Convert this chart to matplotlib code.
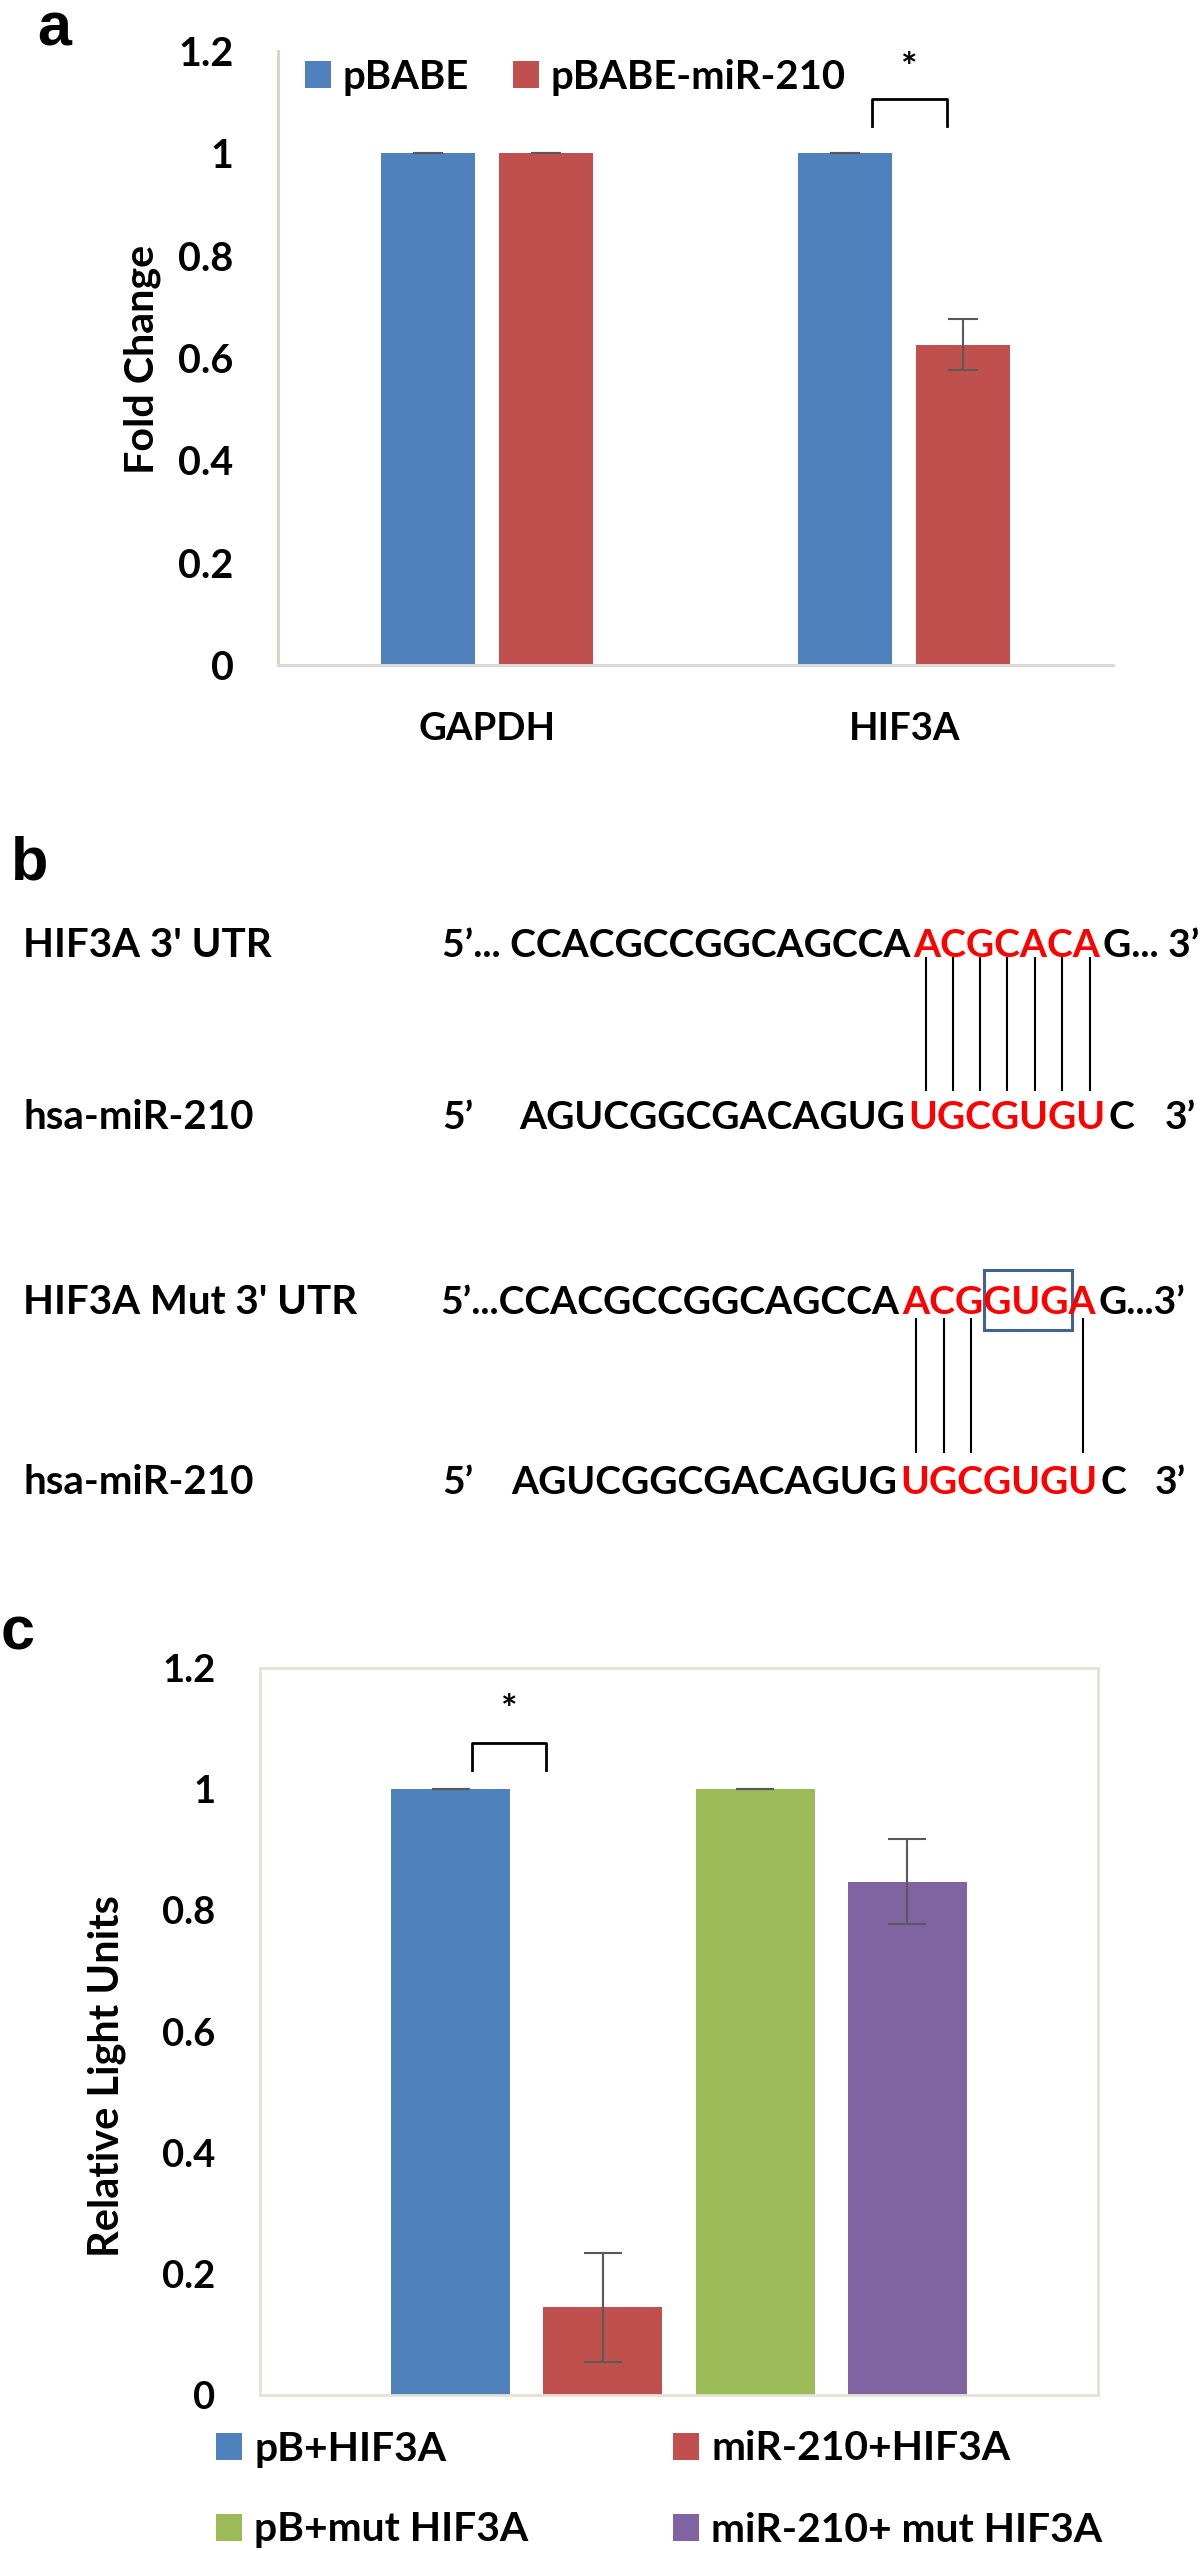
import matplotlib
matplotlib.use("Agg")
import matplotlib.pyplot as plt
from matplotlib.patches import Rectangle, Patch
from matplotlib.legend import Legend
from matplotlib.font_manager import FontProperties
import numpy as np

# ---------------- data ----------------
# panel a
genes = ["GAPDH", "HIF3A"]
series_a = ["pBABE", "pBABE-miR-210"]
fold_pbabe = [1.0, 1.0]
fold_mir = [1.0, 0.626]
err_pbabe = [0.0, 0.0]
err_mir = [0.0, 0.05]
yticks = [0, 0.2, 0.4, 0.6, 0.8, 1.0, 1.2]
yticklabels = ["0", "0.2", "0.4", "0.6", "0.8", "1", "1.2"]

# panel b
row_labels = ["HIF3A 3' UTR", "hsa-miR-210", "HIF3A Mut 3' UTR", "hsa-miR-210"]
utr_prefix = "5’... CCACGCCGGCAGCCA"
utr_seed = "ACGCACA"
utr_suffix = "G... 3’"
mir_prefix = "AGUCGGCGACAGUG"
mir_seed = "UGCGUGU"
mir_suffix = "C"
mut_prefix = "5’...CCACGCCGGCAGCCA"
mut_seed = "ACGGUGA"
mut_suffix = "G...3’"
pairs_wt = [0, 1, 2, 3, 4, 5, 6]
pairs_mut = [0, 1, 2, 6]
mut_box = (3, 6)

# panel c
constructs = ["pB+HIF3A", "miR-210+HIF3A", "pB+mut HIF3A", "miR-210+ mut HIF3A"]
rlu = [1.0, 0.145, 1.0, 0.847]
rlu_err = [0.0, 0.09, 0.0, 0.07]

# ---------------- style ----------------
BLUE, RED, GREEN, PURPLE = "#4F81BD", "#C0504D", "#9BBB59", "#8064A2"
colors_c = [BLUE, RED, GREEN, PURPLE]
ERR = "#595959"
W, H = 1200, 2551
FAM = ["Lato", "DejaVu Sans"]

fig = plt.figure(figsize=(W / 100, H / 100), dpi=100)
renderer = fig.canvas.get_renderer()


def fp(s):
    return FontProperties(family=FAM, weight="bold", size=s)


def tw(s, prop):
    w, h, d = renderer.get_text_width_height_descent(s, prop, ismath=False)
    return w


def fit_size(s, target_px, base=28.0):
    return base * target_px / tw(s, fp(base))


def fit(s, target_px):
    return fp(fit_size(s, target_px))


fp_letter = FontProperties(family=["Liberation Sans", "DejaVu Sans"], weight="bold", size=44)

f_tick_a = fit("1.2", 55)
f_cat_a = fit("GAPDH", 137)
f_leg_a = fit("pBABE-miR-210", 295)
f_ylab_a = fit("Fold Change", 229)
f_tick_c = fit("1.2", 53)
f_leg_c = fit("miR-210+ mut HIF3A", 392)
f_ylab_c = fit("Relative Light Units", 362)
f_lab_b = fit("HIF3A Mut 3' UTR", 334)
f_star = fp(28)

# panel b row geometry (pixels from top-left)
GAP = 3
rows_y = [943, 1115, 1300, 1480]
seed_x = [913, 908, 902, 900]
prefix_x = [442, 519, 442, 506]
prefixes = [utr_prefix, mir_prefix, mut_prefix, mir_prefix]
seq_size = np.mean([fit_size(p, sx - GAP - px) for p, sx, px in zip(prefixes, seed_x, prefix_x)])
f_seq = fp(seq_size)


def ax_rect(left, top, right, bottom):
    return [left / W, 1 - bottom / H, (right - left) / W, (bottom - top) / H]


def add_legend_item(ax, color, label, xpx, ypx, prop):
    leg = Legend(ax, [Patch(facecolor=color, edgecolor="none")], [label],
                 loc="center left", bbox_to_anchor=(xpx / W, 1 - ypx / H),
                 bbox_transform=fig.transFigure, frameon=False, borderpad=0,
                 borderaxespad=0, handlelength=0.64, handleheight=0.64,
                 handletextpad=0.3, prop=prop)
    ax.add_artist(leg)


# ---------------- panel a ----------------
axa = fig.add_axes(ax_rect(278, 51, 1113, 665))
xa = np.arange(len(genes))
off, wa = 0.1413, 0.225
ekw_a = dict(ecolor=ERR, elinewidth=1.5, capsize=11, capthick=1.5)
axa.bar(xa - off, fold_pbabe, wa, color=BLUE, yerr=err_pbabe, error_kw=ekw_a, zorder=2)
axa.bar(xa + off, fold_mir, wa, color=RED, yerr=err_mir, error_kw=ekw_a, zorder=2)
axa.set_xlim(-0.5, len(genes) - 0.5)
axa.set_ylim(0, 1.2)
axa.set_yticks(yticks)
axa.set_yticklabels(yticklabels, fontproperties=f_tick_a)
axa.set_xticks(xa)
axa.set_xticklabels(genes, fontproperties=f_cat_a)
axa.tick_params(axis="both", length=0)
axa.tick_params(axis="y", pad=32)
axa.tick_params(axis="x", pad=34)
for s in ["top", "right"]:
    axa.spines[s].set_visible(False)
axa.spines["left"].set_color("#D8D4BE")
axa.spines["left"].set_linewidth(2)
axa.spines["bottom"].set_color("#D9D9D9")
axa.spines["bottom"].set_linewidth(2.2)
axa.set_ylabel("Fold Change", fontproperties=f_ylab_a, va="center")
axa.yaxis.set_label_coords((142 - 278) / 835, (665 - 359) / 614)
add_legend_item(axa, BLUE, series_a[0], 305, 77, f_leg_a)
add_legend_item(axa, RED, series_a[1], 513, 77, f_leg_a)
bl, br = xa[1] - off + 0.064, xa[1] + off - 0.038
axa.plot([bl, bl, br, br], [1.053, 1.107, 1.107, 1.053], color="black", lw=2, clip_on=False)
axa.text((bl + br) / 2, 1.165, "*", ha="center", va="center", fontproperties=f_star)

# ---------------- panel c ----------------
axc = fig.add_axes(ax_rect(260, 1668, 1098, 2395))
step, wc = 0.1814, 0.142
xc = (np.arange(len(constructs)) - (len(constructs) - 1) / 2) * step
ekw_c = dict(ecolor=ERR, elinewidth=1.5, capsize=14, capthick=1.5)
for i in range(len(constructs)):
    axc.bar(xc[i], rlu[i], wc, color=colors_c[i], yerr=rlu_err[i], error_kw=ekw_c, zorder=2)
axc.set_xlim(-0.5, 0.5)
axc.set_ylim(0, 1.2)
axc.set_xticks([])
axc.set_yticks(yticks)
axc.set_yticklabels(yticklabels, fontproperties=f_tick_c)
axc.tick_params(axis="both", length=0)
axc.tick_params(axis="y", pad=32)
for s in axc.spines.values():
    s.set_color("#E4E2D4")
    s.set_linewidth(2)
axc.set_ylabel("Relative Light Units", fontproperties=f_ylab_c, va="center")
axc.yaxis.set_label_coords((107 - 260) / 838, (2395 - 2076) / 727)
leg_pos = [(216, 2449), (673, 2449), (216, 2530), (673, 2530)]
for i in range(len(constructs)):
    add_legend_item(axc, colors_c[i], constructs[i], leg_pos[i][0], leg_pos[i][1], f_leg_c)
cl, cr = xc[0] + 0.025, xc[1] - 0.068
axc.plot([cl, cl, cr, cr], [1.031, 1.076, 1.076, 1.031], color="black", lw=2, clip_on=False)
axc.text((cl + cr) / 2, 1.13, "*", ha="center", va="center", fontproperties=f_star)

# ---------------- overlay (panel letters + panel b) ----------------
ov = fig.add_axes([0, 0, 1, 1])
ov.set_xlim(0, W)
ov.set_ylim(H, 0)
ov.axis("off")

ov.text(37, 46, "a", ha="left", va="baseline", fontproperties=fp_letter)
ov.text(11, 880, "b", ha="left", va="baseline", fontproperties=fp_letter)
ov.text(1, 1650, "c", ha="left", va="baseline", fontproperties=fp_letter)

CAP2 = 14


def seq_row(i, prefix, seed, suffix, left_tag=None, tail=None, tail_x=None):
    y = rows_y[i] + CAP2
    x0 = seed_x[i]
    ov.text(23, y, row_labels[i], ha="left", va="baseline", fontproperties=f_lab_b)
    if left_tag:
        ov.text(442, y, left_tag, ha="left", va="baseline", fontproperties=f_seq)
    ov.text(x0 - GAP, y, prefix, ha="right", va="baseline", fontproperties=f_seq, color="black")
    ov.text(x0, y, seed, ha="left", va="baseline", fontproperties=f_seq, color="#FF0000")
    ov.text(x0 + tw(seed, f_seq) + GAP, y, suffix, ha="left", va="baseline",
            fontproperties=f_seq, color="black")
    if tail:
        ov.text(tail_x, y, tail, ha="left", va="baseline", fontproperties=f_seq)
    return [x0 + (tw(seed[:k], f_seq) if k else 0) / 2 + tw(seed[:k + 1], f_seq) / 2 + 1
            for k in range(len(seed))]


c1 = seq_row(0, utr_prefix, utr_seed, utr_suffix)
c2 = seq_row(1, mir_prefix, mir_seed, mir_suffix, left_tag="5’", tail="3’", tail_x=1165)
c3 = seq_row(2, mut_prefix, mut_seed, mut_suffix)
c4 = seq_row(3, mir_prefix, mir_seed, mir_suffix, left_tag="5’", tail="3’", tail_x=1155)

for k in pairs_wt:
    x = (c1[k] + c2[k]) / 2
    ov.plot([x, x], [rows_y[0] + 15, rows_y[1] - 25], color="black", lw=1.5)
for k in pairs_mut:
    x = (c3[k] + c4[k]) / 2
    ov.plot([x, x], [rows_y[2] + 19, rows_y[3] - 28], color="black", lw=1.5)

bx0 = seed_x[2] + tw(mut_seed[:mut_box[0]], f_seq) + 1
bx1 = seed_x[2] + tw(mut_seed[:mut_box[1]], f_seq) + 3
ov.add_patch(Rectangle((bx0, rows_y[2] - 30), bx1 - bx0, 60, fill=False,
                       edgecolor="#41648F", lw=2.2))

fig.savefig("out.png", dpi=100)
